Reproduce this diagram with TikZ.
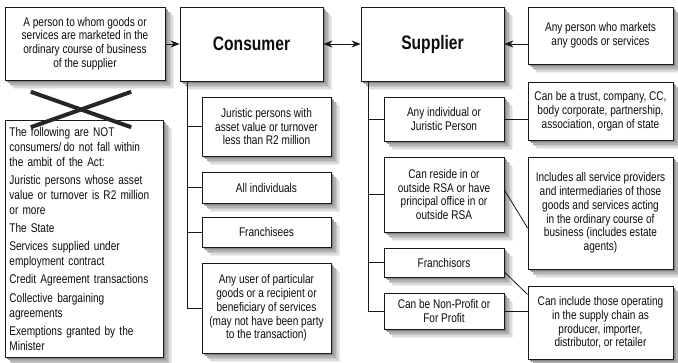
\documentclass[tikz,border=0pt]{standalone}
\usepackage{fontspec}
\setmainfont{Liberation Sans}[FakeStretch=0.8]
\usetikzlibrary{arrows.meta}
\definecolor{shA}{gray}{0.93}
\definecolor{shB}{gray}{0.86}
\definecolor{shC}{gray}{0.78}
\definecolor{shD}{gray}{0.70}
\definecolor{shE}{gray}{0.62}
\definecolor{shF}{gray}{0.54}
\begin{document}
\begin{tikzpicture}[x=1pt,y=-1pt,
  box/.style={draw=black!90, fill=white, line width=0.8pt, align=center, inner sep=2pt,
    font=\fontsize{12.6}{13.8}\selectfont, text=black!95},
  title/.style={font=\fontsize{19.5}{22}\selectfont\bfseries},
  link/.style={draw=black!90, line width=0.8pt},
  arr/.style={link, -{Stealth[length=9pt,width=7pt,inset=3pt]}},
  darr/.style={link, {Stealth[length=9pt,width=7pt,inset=3pt]}-{Stealth[length=9pt,width=7pt,inset=3pt]}},
  cross/.style={draw=black!85, line width=4pt}]
\useasboundingbox (0,0) rectangle (678,362);
\fill[white] (0,0) rectangle (678,362);

% shadow boxes (drawn first, under the nodes)
\foreach \x/\y/\w/\h in {5/7/160/73, 180/7/143/74, 361/7/143/74, 528/7/145/57,
    5/120/158/237, 202/97/129/59, 202/172/129/31, 202/217/129/30, 202/263/129/90,
    384/97/120/44, 384/157/120/75, 384/248/120/29, 384/293/120/36,
    528/82/145/58, 528/157/145/112, 528/286/145/73}{
  \foreach \d/\c in {9/shA,7.5/shB,6/shC,4.5/shD,3/shE,1.5/shF}{
    \fill[\c] (\x+\d,\y+\d) rectangle (\x+\w+\d,\y+\h+\d);
  }
}

% top row
\node[box, minimum width=160, minimum height=73] (A) at (85,43.5)
  {A person to whom goods or\\services are marketed in the\\ordinary course of business\\of the supplier};
\node[box, title, minimum width=143, minimum height=74] (C) at (251.5,44) {Consumer};
\node[box, title, minimum width=143, minimum height=74] (S) at (432.5,44) {Supplier};
\node[box, minimum width=145, minimum height=57] (R0) at (600.5,35.5)
  {Any person who markets\\any goods or services};

% not-consumers box
\node[box, minimum width=158, minimum height=237, text width=150, align=left, anchor=north west,
  font=\fontsize{12.6}{14.8}\selectfont, inner sep=4pt] (N) at (5,120)
  {The following are NOT\\consumers/\,do not fall within\\the ambit of the Act:\\[3.5pt]
   Juristic persons whose asset\\value or turnover is R2 million\\or more\\[3.5pt]
   The State\\[3.5pt]
   Services supplied under\\employment contract\\[3.5pt]
   Credit Agreement transactions\\[3.5pt]
   Collective bargaining\\agreements\\[3.5pt]
   Exemptions granted by the\\Minister};
\node[inner sep=0pt, minimum width=100, minimum height=35] (X) at (81,109.5) {};
\draw[cross] (X.north west) -- (X.south east);
\draw[cross] (X.north east) -- (X.south west);

% consumer children
\node[box, minimum width=129, minimum height=59] (C1) at (266.5,126.5)
  {Juristic persons with\\asset value or turnover\\less than R2 million};
\node[box, minimum width=129, minimum height=31] (C2) at (266.5,187.5) {All individuals};
\node[box, minimum width=129, minimum height=30] (C3) at (266.5,232) {Franchisees};
\node[box, minimum width=129, minimum height=90] (C4) at (266.5,308)
  {Any user of particular\\goods or a recipient or\\beneficiary of services\\(may not have been party\\to the transaction)};

% supplier children
\node[box, minimum width=120, minimum height=44] (S1) at (444,119)
  {Any individual or\\Juristic Person};
\node[box, minimum width=120, minimum height=75] (S2) at (444,194.5)
  {Can reside in or\\outside RSA or have\\principal office in or\\outside RSA};
\node[box, minimum width=120, minimum height=29] (S3) at (444,262.5) {Franchisors};
\node[box, minimum width=120, minimum height=36] (S4) at (444,311)
  {Can be Non-Profit or\\For Profit};

% right column
\node[box, minimum width=145, minimum height=58] (R1) at (600.5,111)
  {Can be a trust, company, CC,\\body corporate, partnership,\\association, organ of state};
\node[box, minimum width=145, minimum height=112] (R2) at (600.5,213)
  {Includes all service providers\\and intermediaries of those\\goods and services acting\\in the ordinary course of\\business (includes estate\\agents)};
\node[box, minimum width=145, minimum height=73] (R3) at (600.5,322.5)
  {Can include those operating\\in the supply chain as\\producer, importer,\\distributor, or retailer};

% arrows
\draw[arr] (A.east |- C.west) -- (C.west);
\draw[darr] (C.east) -- (S.west);
\draw[arr] (R0.west |- S.east) -- (S.east);

% consumer trunk
\draw[link] ([xshift=8pt]C.south west) |- (C4.west);
\draw[link] (C1.west) -- ++(-14,0);
\draw[link] (C2.west) -- ++(-14,0);
\draw[link] (C3.west) -- ++(-14,0);

% supplier trunk
\draw[link] ([xshift=8pt]S.south west) |- (S4.west);
\draw[link] (S1.west) -- ++(-15,0);
\draw[link] (S2.west) -- ++(-15,0);
\draw[link] (S3.west) -- ++(-15,0);

% links to right column
\draw[link] (S1.east) -- (S1.east -| R1.west);
\draw[link] ([yshift=4.5pt]S2.east) -- ([yshift=-15pt]R2.west);
\draw[link] ([yshift=-9.5pt]S3.east) -- ([yshift=28pt]R3.west);
\draw[link] (S4.east) -- (S4.east -| R3.west);
\end{tikzpicture}
\end{document}
